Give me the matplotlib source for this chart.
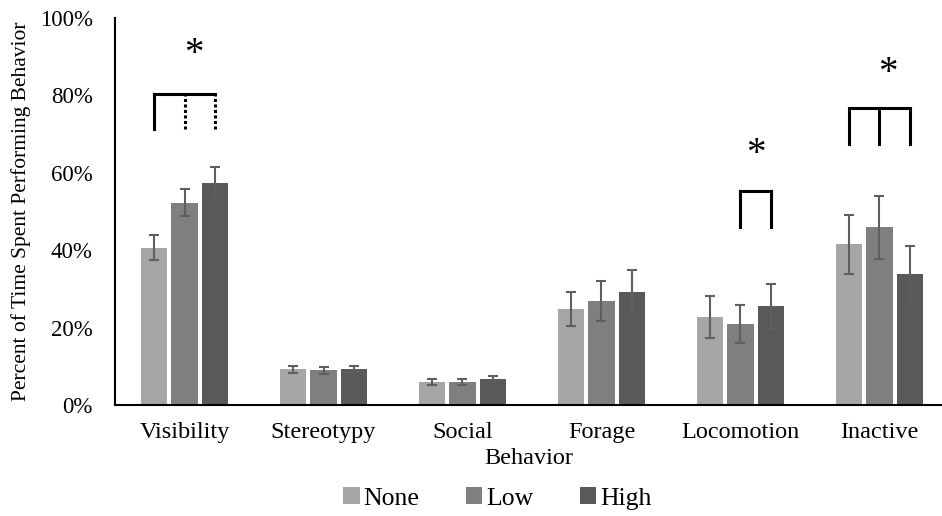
import matplotlib

matplotlib.use("Agg")

import matplotlib.pyplot as plt  # noqa: E402
import numpy as np  # noqa: E402

plt.rcParams["font.family"] = ["Liberation Serif", "DejaVu Serif"]

behaviors = ["Visibility", "Stereotypy", "Social", "Forage", "Locomotion", "Inactive"]
groups = ["None", "Low", "High"]

# percent of time per group (None, Low, High) and standard errors
none_vals = [40.7, 9.2, 6.0, 24.8, 22.7, 41.5]
low_vals = [52.3, 9.0, 5.9, 26.8, 20.9, 45.9]
high_vals = [57.5, 9.3, 6.7, 29.1, 25.5, 33.8]
none_err = [3.2, 1.0, 0.8, 4.5, 5.4, 7.6]
low_err = [3.4, 0.9, 0.7, 5.2, 5.0, 8.1]
high_err = [3.9, 0.8, 0.8, 5.8, 5.9, 7.3]

colors = ["#a6a6a6", "#7f7f7f", "#595959"]
err_color = "#5f5f5f"

fig = plt.figure(figsize=(9.42, 5.16), dpi=100)
ax = fig.add_axes([0.1221, 0.2151, 0.8779, 0.7499])

x = np.arange(len(behaviors))
offsets = [-0.22, 0.0, 0.22]
series = [(none_vals, none_err), (low_vals, low_err), (high_vals, high_err)]
for off, (vals, errs), color, name in zip(offsets, series, colors, groups):
    ax.bar(x + off, vals, width=0.19, color=color, label=name, zorder=2)
    ax.errorbar(x + off, vals, yerr=errs, fmt="none", ecolor=err_color,
                elinewidth=1.5, capsize=3.5, capthick=1.5, zorder=3)


def bracket(cat, ticks, top, bottom, star_y, dotted=(), star_x=None):
    xs = [cat + offsets[i] for i in ticks]
    ax.plot([xs[0], xs[-1]], [top, top], color="black", lw=2.2,
            solid_capstyle="projecting", clip_on=False)
    for i, xv in zip(ticks, xs):
        style = (0, (1, 0.8)) if i in dotted else "-"
        ax.plot([xv, xv], [bottom, top], color="black", lw=2.2,
                linestyle=style, clip_on=False)
    sx = star_x if star_x is not None else (xs[0] + xs[-1]) / 2
    ax.text(sx, star_y, "*", ha="center", va="center", fontsize=28)


# significance markers
bracket(0, [0, 1, 2], 80.5, 71.4, 90.5, dotted=(1, 2), star_x=0.07)
bracket(4, [1, 2], 55.2, 45.9, 64.8)
bracket(5, [0, 1, 2], 76.8, 67.5, 85.8, star_x=5.06)

ax.set_xlim(-0.5, 5.45)
ax.set_ylim(0, 100)
ax.set_yticks(range(0, 101, 20))
ax.set_yticklabels([f"{v}%" for v in range(0, 101, 20)])
ax.set_xticks(x)
ax.set_xticklabels(behaviors)
ax.tick_params(axis="both", length=0)
ax.tick_params(axis="y", pad=16, labelsize=16.5)
ax.tick_params(axis="x", pad=12, labelsize=17.5)

for side in ["top", "right"]:
    ax.spines[side].set_visible(False)
ax.spines["left"].set_linewidth(1.5)
ax.spines["bottom"].set_linewidth(1.5)

ax.set_xlabel("Behavior", fontsize=17.5, labelpad=4)
ax.set_ylabel("Percent of Time Spent Performing Behavior", fontsize=15.5, labelpad=6)

fig.legend(loc="lower center", bbox_to_anchor=(0.528, -0.033), ncol=3,
           frameon=False, fontsize=18.5, handlelength=0.65, handleheight=0.65,
           handletextpad=0.15, columnspacing=1.8)

fig.savefig("out.png", dpi=100)
